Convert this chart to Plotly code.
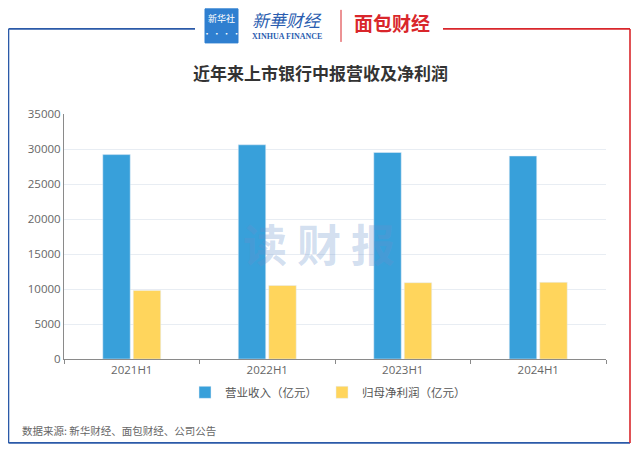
import plotly.graph_objects as go

categories = ["2021H1", "2022H1", "2023H1", "2024H1"]
revenue = [29200, 30600, 29500, 29000]
net_profit = [9800, 10500, 10900, 10950]
y_ticks = [0, 5000, 10000, 15000, 20000, 25000, 30000, 35000]
y_tick_text = [str(v) for v in y_ticks]

BLUE = "#38a0da"
YELLOW = "#ffd55c"
FONT = "Noto Sans CJK SC"

# page has an 8px body margin; work in page coordinates and shift
OFF = 8
W, H = 640 - OFF, 453 - OFF
pl, pr, pt, pb = 64 - OFF, 34, 114 - OFF, 94.3
pw, ph = W - pl - pr, H - pt - pb


def px(x):
    return (x - OFF - pl) / pw


def py(y):
    return (H - pb - (y - OFF)) / ph


fig = go.Figure()
fig.add_trace(go.Bar(x=categories, y=revenue, name="营业收入（亿元）", marker_color=BLUE))
fig.add_trace(go.Bar(x=categories, y=net_profit, name="归母净利润（亿元）", marker_color=YELLOW))

fig.update_layout(
    width=W, height=H,
    margin=dict(l=pl, r=pr, t=pt, b=pb),
    paper_bgcolor="white", plot_bgcolor="white",
    barmode="group", bargap=0.55, bargroupgap=0.1,
    font=dict(family=FONT, size=11, color="#666"),
    showlegend=True,
    legend=dict(orientation="h", x=px(322), xanchor="center", y=py(392), yanchor="middle",
                font=dict(size=11.5, color="#555", family=FONT),
                itemwidth=30, traceorder="normal",
                entrywidth=92, entrywidthmode="pixels"),
    xaxis=dict(showline=True, linecolor="#8a8a8a", linewidth=1, ticks="outside",
               tickson="boundaries", ticklen=4, tickcolor="#8a8a8a",
               tickfont=dict(size=11.5, color="#666", family="Open Sans"), showgrid=False),
    yaxis=dict(range=[0, 35000], tickvals=y_ticks, ticktext=y_tick_text, showline=True,
               linecolor="#8a8a8a", linewidth=1, gridcolor="#e8edf3", zeroline=False,
               tickfont=dict(size=11.5, color="#666", family="Open Sans"), ticks=""),
)

frame = [
    ((8.5, 29), (195, 29), "#2b5aa8", 1.6),
    ((8.5, 29), (8.5, 442.5), "#2b5aa8", 1.6),
    ((8.5, 442.5), (630, 442.5), "#2b5aa8", 1.6),
    ((443, 29), (630, 29), "#d9262b", 1.6),
    ((630, 29), (630, 442.5), "#d9262b", 1.6),
    ((341, 10), (341, 42), "#d9262b", 1),
]
shp = []
for (x0, y0), (x1, y1), c, w in frame:
    shp.append(dict(type="line", xref="paper", yref="paper", x0=px(x0), x1=px(x1),
                    y0=py(y0), y1=py(y1), line=dict(color=c, width=w)))
shp.append(dict(type="rect", xref="paper", yref="paper", x0=px(205), x1=px(238), y0=py(43), y1=py(9),
                fillcolor="#2f7fd0", line=dict(color="#2f7fd0", width=1), layer="above"))
fig.update_layout(shapes=shp)

ann = [
    dict(text="<b>近年来上市银行中报营收及净利润</b>", x=px(320), y=py(73),
         font=dict(size=17, color="#333", family=FONT)),
    dict(text="<b>读 财 报</b>", x=px(319), y=py(243),
         font=dict(size=44, color="rgba(105,145,205,0.3)", family=FONT)),
    dict(text="数据来源: 新华财经、面包财经、公司公告", x=px(20), y=py(430), xanchor="left",
         font=dict(size=10.5, color="#666", family=FONT)),
    dict(text="新华社", x=px(221.5), y=py(19), font=dict(size=9, color="white", family=FONT)),
    dict(text="· · · ·", x=px(221.5), y=py(34), font=dict(size=8, color="white", family=FONT)),
    dict(text="<i>新華财经</i>", x=px(287), y=py(20), font=dict(size=17, color="#2a5db0", family=FONT)),
    dict(text="<b>XINHUA FINANCE</b>", x=px(287), y=py(37),
         font=dict(size=8, color="#2a5db0", family="Liberation Serif")),
    dict(text="<b>面包财经</b>", x=px(392), y=py(23), font=dict(size=19, color="#d9262b", family=FONT)),
]
for a in ann:
    a.update(xref="paper", yref="paper", showarrow=False)
    a.setdefault("xanchor", "center")
    a.setdefault("yanchor", "middle")
fig.update_layout(annotations=ann)

fig.write_html("out.html")
